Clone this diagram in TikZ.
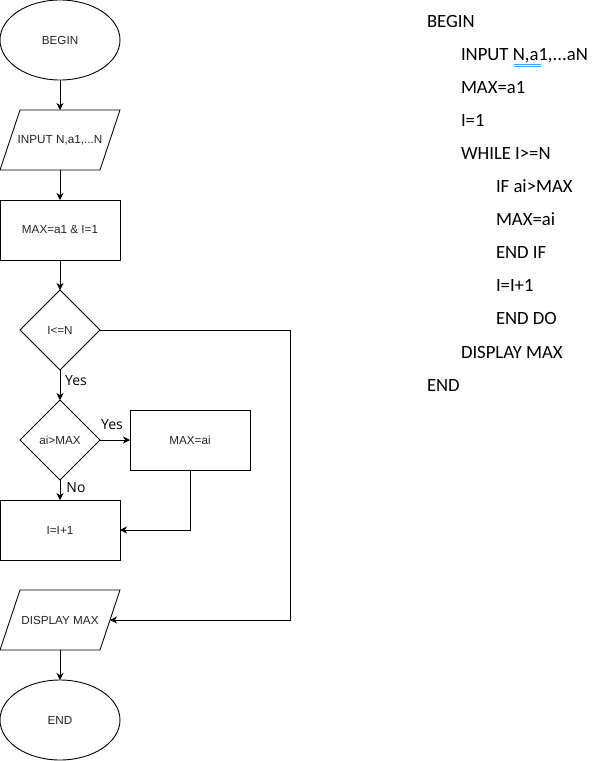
\documentclass[tikz,border=0pt]{standalone}
\usepackage{fontspec}
\setmainfont{Liberation Sans}
\newfontfamily\codefont{Carlito}
\newfontfamily\labelfont{Open Sans}
\usetikzlibrary{shapes.geometric,arrows.meta}
\begin{document}
\begin{tikzpicture}[x=1pt,y=-1pt,
  every node/.style={inner sep=0pt,outer sep=0pt},
  box/.style={line width=0.9pt,font=\fontsize{11.7}{14}\selectfont,text=black!85},
  term/.style={box,draw,ellipse,minimum width=120pt,minimum height=80pt},
  proc/.style={box,draw,rectangle,minimum width=120pt,minimum height=60pt},
  decide/.style={box,draw,diamond,minimum width=80pt,minimum height=80pt},
  % parallelogram: the node is its mid-band, the slanted outline is drawn round it
  io/.style={box,rectangle,minimum width=100pt,minimum height=60pt},
  outline/.style={line width=0.9pt,line join=miter},
  flow/.style={line width=0.9pt,-{Stealth[length=7pt,width=7pt,inset=2.2pt]}},
  lbl/.style={font=\labelfont\fontsize{14}{16}\selectfont},
  code/.style={anchor=base west,font=\codefont\fontsize{18.7}{22}\selectfont}]
\useasboundingbox (0,0) rectangle (598,761);

% flowchart
\node[term]   (begin) at (60,40)  {BEGIN};
\node[io]     (input) at (60,140) {INPUT N,a1,...N};
\node[proc]   (init)  at (60,230) {MAX=a1 \& I=1};
\node[decide] (loop)  at (60,330) {I<=N};
\node[decide] (cmp)   at (60,440) {ai>MAX};
\node[proc]   (upd)   at (190,440) {MAX=ai};
\node[proc]   (inc)   at (60,530) {I=I+1};
\node[io]     (disp)  at (60,620) {DISPLAY MAX};
\node[term]   (end)   at (60,720) {END};

% slanted outlines of the input/output boxes
\foreach \n in {input,disp}
  \draw[outline] ([xshift=10pt]\n.north west) -- ([xshift=10pt]\n.north east)
    -- ([xshift=-10pt]\n.south east) -- ([xshift=-10pt]\n.south west) -- cycle;

\coordinate (loopr) at (290,330);
\coordinate (loopd) at (290,620);
\coordinate (updd)  at (190,530);

\draw[flow] (begin) -- (input);
\draw[flow] (input) -- (init);
\draw[flow] (init) -- (loop);
\draw[flow] (loop) -- (cmp);
\draw[flow] (cmp) -- (upd);
\draw[flow] (cmp) -- (inc);
\draw[flow] (upd.south) -- (updd) -- (inc.east);
\draw[flow] (loop.east) -- (loopr) -- (loopd) -- (disp.east);
\draw[flow] (disp) -- (end);

\node[lbl] (yes1) at (76,381) {Yes};
\node[lbl] (yes2) at (112,425) {Yes};
\node[lbl] (no)   at (76,488) {No};

% pseudocode
\node[code] (c1)  at (427,27)    {BEGIN};
\node[code] (c2)  at (461,60.1)  {INPUT N,a1,...aN};
\node[code] (c3)  at (461,93.2)  {MAX=a1};
\node[code] (c4)  at (461,126.3) {I=1};
\node[code] (c5)  at (461,159.4) {WHILE I>=N};
\node[code] (c6)  at (496,192.5) {IF ai>MAX};
\node[code] (c7)  at (496,225.6) {MAX=ai};
\node[code] (c8)  at (496,258.7) {END IF};
\node[code] (c9)  at (496,291.8) {I=I+1};
\node[code] (c10) at (496,324.9) {END DO};
\node[code] (c11) at (461,358)   {DISPLAY MAX};
\node[code] (c12) at (427,391.1) {END};

% spelling marker under "N,a1"
\draw[color=blue!55!cyan!70,line width=0.5pt] (514,64.6) -- (541,64.6);
\draw[color=blue!55!cyan!70,line width=0.5pt] (514,66.4) -- (541,66.4);
\end{tikzpicture}
\end{document}
